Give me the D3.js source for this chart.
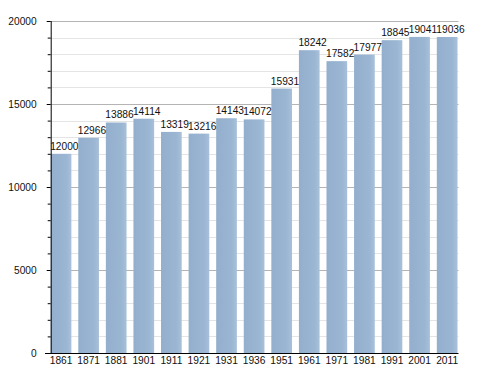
<!DOCTYPE html>
<html>
<head>
<meta charset="utf-8">
<script src="https://cdn.jsdelivr.net/npm/d3@7"></script>
<style>
  body { margin: 0; background: #fff; }
  #root { width: 488px; height: 373px; }
  text { font-family: "Liberation Sans", Arial, sans-serif; }
</style>
</head>
<body>
<div id="root"></div>
<script>
const years = ['1861', '1871', '1881', '1901', '1911', '1921', '1931', '1936', '1951', '1961', '1971', '1981', '1991', '2001', '2011'];
const population = [12000, 12966, 13886, 14114, 13319, 13216, 14143, 14072, 15931, 18242, 17582, 17977, 18845, 19041, 19036];
const yTicks = [0, 5000, 10000, 15000, 20000];

const root = document.getElementById('root');

const buildGraph = () => {
    // Dimensions
    const width = 488;
    const height = 373;
    const left = 50.7;
    const right = 457.5;
    const top = 21;
    const bottom = 353;
    const fontSize = '10.2px';

    const svg = d3.select(root)
                    .append('svg')
                    .attr('width', width)
                    .attr('height', height);

    const defs = svg.append('defs');
    const grad = defs.append('linearGradient')
                    .attr('id', 'barFill')
                    .attr('x1', '0').attr('x2', '1').attr('y1', '0').attr('y2', '0');
    grad.append('stop').attr('offset', '0%').attr('stop-color', '#93afcd');
    grad.append('stop').attr('offset', '75%').attr('stop-color', '#9ab6d3');
    grad.append('stop').attr('offset', '100%').attr('stop-color', '#a9c0d9');

    // Scales
    const x = d3.scaleBand()
                .domain(years)
                .range([left, right])
                .paddingInner(0.25)
                .paddingOuter(0)
                .align(0);
    const y = d3.scaleLinear()
                .domain([0, 20000])
                .range([bottom, top]);

    // Grid lines, minor every 1000 and major every 5000
    const minor = d3.range(1000, 20001, 1000).filter(v => v % 5000 !== 0);
    svg.append('g')
        .selectAll('line')
        .data(minor)
        .join('line')
        .attr('x1', left).attr('x2', right + 1)
        .attr('y1', d => Math.round(y(d)) + 0.5)
        .attr('y2', d => Math.round(y(d)) + 0.5)
        .attr('stroke', '#e4e4e4');
    svg.append('g')
        .selectAll('line')
        .data(yTicks.filter(v => v > 0))
        .join('line')
        .attr('x1', left).attr('x2', right + 1)
        .attr('y1', d => Math.round(y(d)) + 0.5)
        .attr('y2', d => Math.round(y(d)) + 0.5)
        .attr('stroke', '#b4b4b4');

    // Bars
    svg.append('g')
        .selectAll('rect')
        .data(years)
        .join('rect')
        .attr('x', (d) => x(d))
        .attr('y', (d, i) => y(population[i]))
        .attr('width', x.bandwidth())
        .attr('height', (d, i) => bottom - y(population[i]))
        .attr('fill', 'url(#barFill)');

    // Value labels
    svg.append('g')
        .selectAll('text')
        .data(years)
        .join('text')
        .attr('x', (d) => x(d) - 0.5)
        .attr('y', (d, i) => y(population[i]) - 4)
        .attr('font-size', fontSize)
        .attr('fill', '#111')
        .text((d, i) => population[i]);

    // Y axis
    const yAxis = d3.axisLeft(y)
                    .tickValues(d3.range(0, 20001, 1000))
                    .tickSize(3)
                    .tickFormat(d => yTicks.includes(d) ? d : '');
    const gy = svg.append('g')
        .attr('transform', `translate(${left},0)`)
        .call(yAxis);
    gy.select('.domain').attr('stroke', '#000').attr('d', `M0.5,${top}V${bottom}`);
    gy.selectAll('.tick line').attr('stroke', '#000').attr('x2', d => yTicks.includes(d) ? -4 : -3);
    gy.selectAll('.tick text')
        .attr('x', -14)
        .attr('font-size', fontSize)
        .attr('font-family', '"Liberation Sans", Arial, sans-serif')
        .attr('fill', '#111');

    // X axis
    const xAxis = d3.axisBottom(x).tickSize(0).tickPadding(4);
    const gx = svg.append('g')
        .attr('transform', `translate(0,${bottom})`)
        .call(xAxis);
    gx.select('.domain').attr('stroke', '#000').attr('d', `M45,0.5H${right + 1}`);
    gx.selectAll('.tick text')
        .attr('font-size', fontSize)
        .attr('font-family', '"Liberation Sans", Arial, sans-serif')
        .attr('fill', '#111');
}

buildGraph();
</script>
</body>
</html>
